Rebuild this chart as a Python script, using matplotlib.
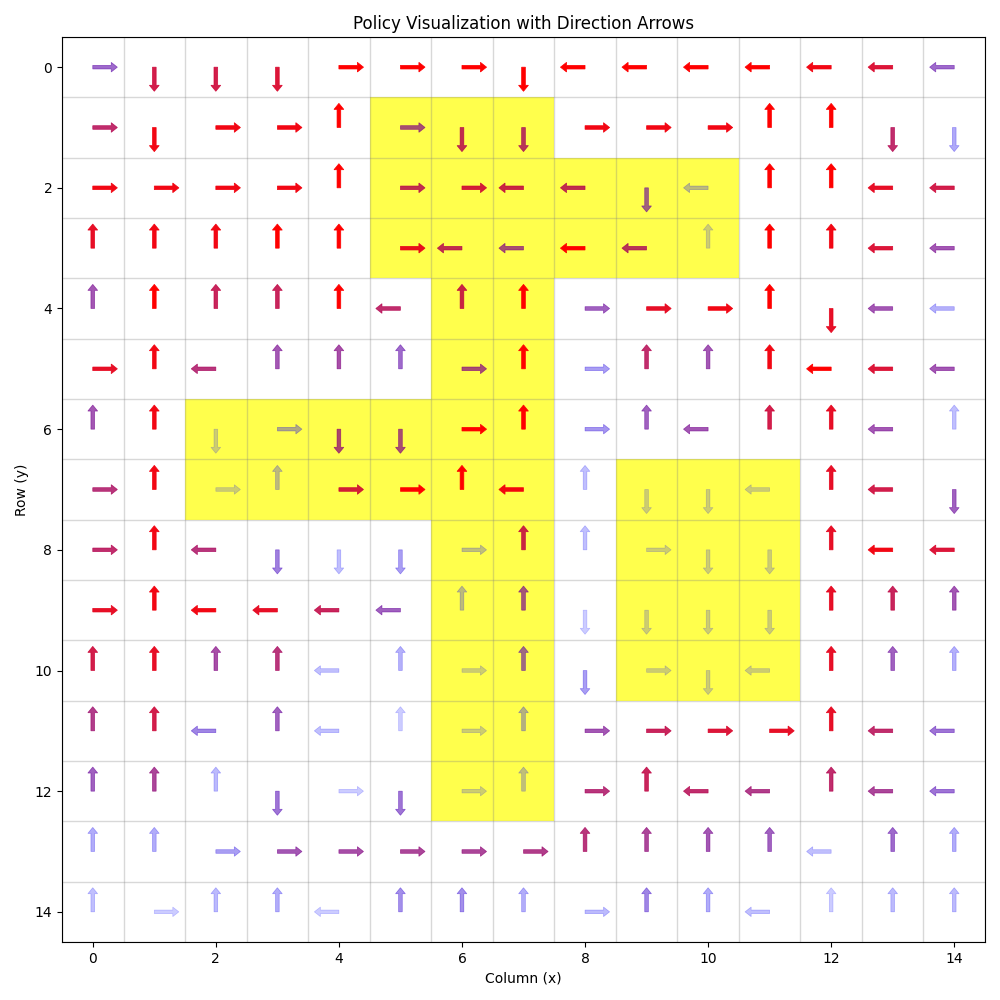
import matplotlib
matplotlib.use("Agg")
import matplotlib.pyplot as plt

# Policy directions per row (U=up, D=down, L=left, R=right)
directions = [
    "RDDDRRRDLLLLLLL",
    "RDRRURDDRRRUUDD",
    "RRRRURRLLDLUULL",
    "UUUUURLLLLUUULL",
    "UUUUULUURRRUDLL",
    "RULUUURURUUULLL",
    "UUDRDDRURULUULU",
    "RURURRULUDDLULD",
    "RULDDDRUURDDULL",
    "RULLLLUUDDDDUUU",
    "UUUULURUDRDLUUU",
    "UULULURURRRRULL",
    "UUUDRDRURULLULL",
    "UURRRRRRUUUULUU",
    "URUULUUURUULUUU",
]

# Normalised state value per cell (0 = low / blue, 1 = high / red)
values = [
    [0.35, 0.80, 0.80, 0.85, 1.00, 1.00, 1.00, 1.00, 1.00, 1.00, 1.00, 1.00, 0.95, 0.85, 0.35],
    [0.70, 0.95, 0.95, 0.95, 1.00, 0.50, 0.70, 0.65, 0.95, 0.95, 0.95, 1.00, 1.00, 0.70, 0.08],
    [0.95, 0.95, 0.95, 0.95, 1.00, 0.70, 0.80, 0.75, 0.70, 0.40, 0.03, 1.00, 1.00, 0.90, 0.80],
    [0.90, 0.95, 0.95, 1.00, 1.00, 0.90, 0.70, 0.50, 1.00, 0.65, 0.00, 1.00, 0.95, 0.85, 0.45],
    [0.45, 1.00, 0.75, 0.75, 1.00, 0.70, 0.75, 1.00, 0.40, 0.90, 0.95, 1.00, 0.90, 0.45, 0.06],
    [0.90, 0.95, 0.65, 0.45, 0.50, 0.35, 0.50, 1.00, 0.12, 0.70, 0.45, 0.95, 1.00, 0.85, 0.45],
    [0.45, 0.95, 0.00, 0.08, 0.55, 0.50, 1.00, 1.00, 0.15, 0.40, 0.45, 0.80, 0.90, 0.45, 0.02],
    [0.65, 0.95, 0.00, 0.03, 0.80, 1.00, 1.00, 0.95, 0.02, 0.00, 0.00, 0.00, 0.90, 0.80, 0.40],
    [0.70, 0.95, 0.65, 0.25, 0.02, 0.12, 0.02, 0.75, 0.02, 0.00, 0.00, 0.00, 0.90, 0.95, 0.85],
    [0.90, 0.95, 0.95, 0.90, 0.75, 0.40, 0.03, 0.45, 0.00, 0.00, 0.00, 0.00, 0.90, 0.75, 0.45],
    [0.80, 0.90, 0.50, 0.65, 0.02, 0.06, 0.00, 0.35, 0.12, 0.00, 0.00, 0.00, 0.90, 0.40, 0.06],
    [0.60, 0.80, 0.22, 0.40, 0.02, 0.00, 0.00, 0.06, 0.45, 0.75, 0.85, 0.90, 0.90, 0.70, 0.30],
    [0.40, 0.55, 0.03, 0.30, 0.00, 0.30, 0.00, 0.02, 0.65, 0.75, 0.70, 0.60, 0.70, 0.55, 0.30],
    [0.07, 0.07, 0.12, 0.45, 0.50, 0.55, 0.55, 0.60, 0.65, 0.55, 0.45, 0.40, 0.02, 0.35, 0.07],
    [0.02, 0.00, 0.03, 0.07, 0.00, 0.18, 0.18, 0.07, 0.03, 0.22, 0.07, 0.02, 0.00, 0.03, 0.03],
]

# Highlighted cells ('#')
highlight = [
    "...............",
    ".....###.......",
    ".....######....",
    ".....######....",
    "......##.......",
    "......##.......",
    "..######.......",
    "..######.###...",
    "......##.###...",
    "......##.###...",
    "......##.###...",
    "......##.......",
    "......##.......",
    "...............",
    "...............",
]

n_rows = len(directions)
n_cols = len(directions[0])

fig = plt.figure(figsize=(10, 10), dpi=100)
ax = fig.add_axes([0.062, 0.058, 0.923, 0.905])

# highlighted cells
for r in range(n_rows):
    for c in range(n_cols):
        if highlight[r][c] == "#":
            ax.add_patch(plt.Rectangle((c - 0.5, r - 0.5), 1, 1,
                                       facecolor="yellow", alpha=0.7,
                                       edgecolor="none", zorder=1))

# grid lines
for k in range(n_cols + 1):
    ax.axvline(k - 0.5, color="gray", alpha=0.3, lw=1, zorder=2)
for k in range(n_rows + 1):
    ax.axhline(k - 0.5, color="gray", alpha=0.3, lw=1, zorder=2)

vec = {"U": (0, -0.3), "D": (0, 0.3), "L": (-0.3, 0), "R": (0.3, 0)}
for r in range(n_rows):
    for c in range(n_cols):
        v = values[r][c]
        dx, dy = vec[directions[r][c]]
        col = (v, 0.0, 1.0 - v, 0.2 + 0.8 * v ** 0.7)
        ax.arrow(c, r, dx, dy, width=0.06, head_width=0.16, head_length=0.1,
                 fc=col, ec=col, lw=0.5, zorder=3)

ax.set_xlim(-0.5, n_cols - 0.5)
ax.set_ylim(n_rows - 0.5, -0.5)
ax.set_title("Policy Visualization with Direction Arrows")
ax.set_xlabel("Column (x)")
ax.set_ylabel("Row (y)")

fig.savefig("out.png", dpi=100)
